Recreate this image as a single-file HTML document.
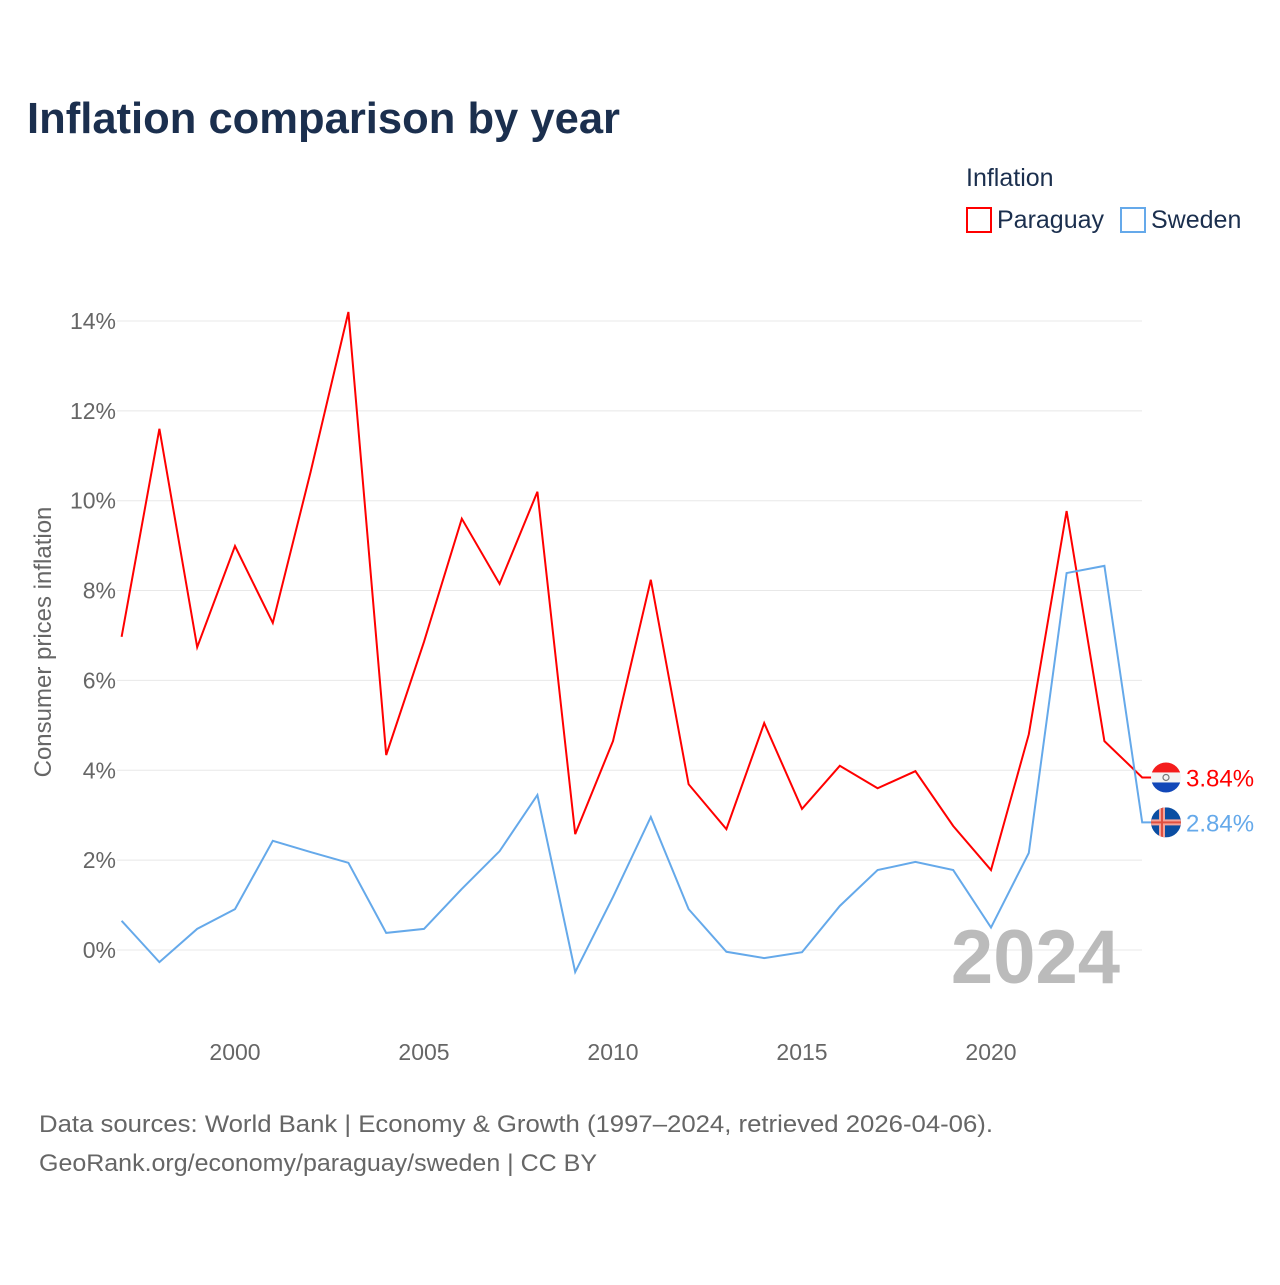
<!DOCTYPE html>
<html><head><meta charset="utf-8"><style>
body{margin:0;background:#fff;font-family:"Liberation Sans",sans-serif}
svg text{font-family:"Liberation Sans",sans-serif}
</style></head><body>
<svg width="1280" height="1280" xmlns="http://www.w3.org/2000/svg" id="chart">
<text x="27" y="133" font-size="44" font-weight="bold" fill="#1b2f4e" textLength="593" lengthAdjust="spacingAndGlyphs">Inflation comparison by year</text>
<text x="966" y="186" font-size="25" fill="#1b2f4e">Inflation</text>
<g><rect x="967" y="208" width="24" height="24" fill="none" stroke="#f00" stroke-width="2"/><text x="997" y="228" font-size="25" fill="#1b2f4e">Paraguay</text></g>
<g><rect x="1121" y="208" width="24" height="24" fill="none" stroke="#65a9ea" stroke-width="2"/><text x="1151" y="228" font-size="25" fill="#1b2f4e">Sweden</text></g>
<text transform="translate(51,642) rotate(-90)" text-anchor="middle" font-size="24" fill="#666">Consumer prices inflation</text>
<g id="grid"></g><g id="xt"></g>
<text x="1120" y="983" text-anchor="end" font-size="76" font-weight="bold" fill="#bbb">2024</text>
<g id="lines"></g>
<text x="39" y="1132" font-size="24" fill="#666" textLength="954" lengthAdjust="spacingAndGlyphs">Data sources: World Bank | Economy &amp; Growth (1997–2024, retrieved 2026-04-06).</text>
<text x="39" y="1171" font-size="24" fill="#666" textLength="558" lengthAdjust="spacingAndGlyphs">GeoRank.org/economy/paraguay/sweden | CC BY</text>
</svg>
<script>
const years=[1997,1998,1999,2000,2001,2002,2003,2004,2005,2006,2007,2008,2009,2010,2011,2012,2013,2014,2015,2016,2017,2018,2019,2020,2021,2022,2023,2024];
const paraguay=[6.97,11.6,6.74,8.99,7.28,10.64,14.2,4.34,6.86,9.6,8.15,10.2,2.58,4.65,8.24,3.69,2.69,5.05,3.14,4.1,3.6,3.98,2.76,1.78,4.8,9.77,4.65,3.84];
const sweden=[0.65,-0.27,0.47,0.91,2.43,2.18,1.94,0.38,0.47,1.36,2.2,3.45,-0.49,1.18,2.96,0.91,-0.04,-0.18,-0.05,0.98,1.78,1.96,1.78,0.5,2.16,8.39,8.55,2.84];
const yTicks=[0,2,4,6,8,10,12,14];
const xTicks=[2000,2005,2010,2015,2020];
const NS="http://www.w3.org/2000/svg";
const X=v=>121.6+(v-1997)*37.8, Y=v=>950-v*44.93;
function mk(t,a,p){const e=document.createElementNS(NS,t);for(const k in a)e.setAttribute(k,a[k]);p.appendChild(e);return e;}
const g=document.getElementById('grid');
yTicks.forEach(t=>{
const l=mk('line',{x1:117,x2:1142,y1:Y(t),y2:Y(t),stroke:'#e8e8e8','stroke-width':1},g);


const tx=mk('text',{x:116,y:Y(t)+8,'text-anchor':'end','font-size':23,fill:'#666'},g);tx.textContent=t+'%';


});
const xt=document.getElementById('xt');
xTicks.forEach(t=>{
const tx=mk('text',{x:X(t),y:1060,'text-anchor':'middle','font-size':23,fill:'#666'},xt);tx.textContent=t;


});
const L=document.getElementById('lines');
function series(vals,col,name,label){
const last=vals[vals.length-1];
let d=vals.map((v,i)=>(i?'L':'M')+X(years[i])+','+Y(v)).join(' ')+' L'+(X(2024)+24)+','+Y(last);
const p=mk('path',{d:d,fill:'none',stroke:col,'stroke-width':2},L);


const cy=Y(last);
const c=mk('g',{},L);


const cl='cl'+name;const cp=mk('clipPath',{id:cl},c);mk('circle',{cx:1166,cy:cy,r:15},cp);
const fg=mk('g',{'clip-path':'url(#'+cl+')'},c);
if(name==='paraguay'){mk('rect',{x:1151,y:cy-15,width:30,height:10,fill:'#f41c1c'},fg);mk('rect',{x:1151,y:cy-5,width:30,height:10,fill:'#f4f4f4'},fg);mk('rect',{x:1151,y:cy+5,width:30,height:10,fill:'#1147b8'},fg);mk('circle',{cx:1166,cy:cy,r:3,fill:'none',stroke:'#777','stroke-width':1.2},fg);}
else{mk('rect',{x:1151,y:cy-15,width:30,height:30,fill:'#0b4ea2'},fg);mk('rect',{x:1151,y:cy-3,width:30,height:6,fill:'#f4a49a'},fg);mk('rect',{x:1159,y:cy-15,width:6,height:30,fill:'#f4a49a'},fg);mk('rect',{x:1151,y:cy-1,width:30,height:2,fill:'#e05040'},fg);mk('rect',{x:1161,y:cy-15,width:2,height:30,fill:'#e05040'},fg);}
const t=mk('text',{x:1186,y:cy+9,'font-size':24,fill:col},L);t.textContent=label;


}
series(paraguay,'#f00','paraguay',paraguay[paraguay.length-1].toFixed(2)+'%');
series(sweden,'#65a9ea','sweden',sweden[sweden.length-1].toFixed(2)+'%');
</script>
</body></html>
